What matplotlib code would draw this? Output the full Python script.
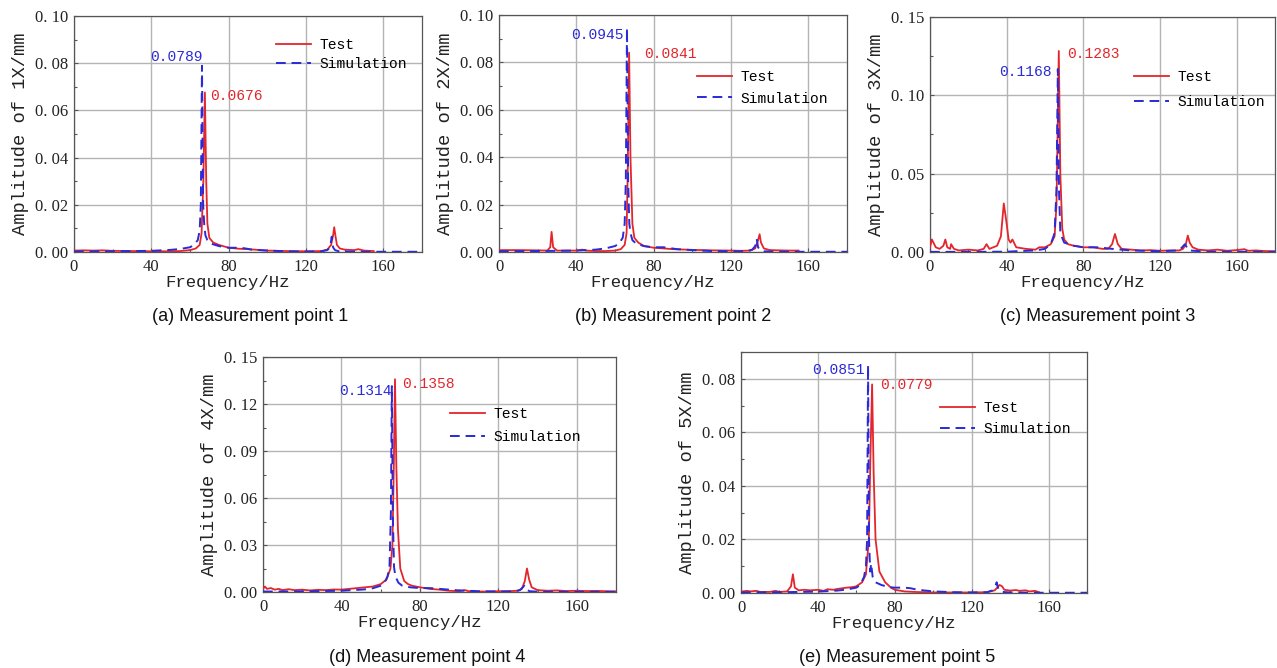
import numpy as np
import matplotlib
matplotlib.use("Agg")
import matplotlib.pyplot as plt
from matplotlib.ticker import MultipleLocator, FuncFormatter

W, H = 1277, 668
fig = plt.figure(figsize=(W / 100, H / 100), dpi=100)

RED = '#e3262b'
BLUE = '#2a2ad8'
MONO = 'Liberation Mono'
SERIF = 'Liberation Serif'

# ---- data (frequency Hz, amplitude mm) ----
# (a) point 1
test1_f = [0, 5, 10, 15, 20, 30, 40, 50, 55, 60, 63, 65, 66, 66.9, 67.7, 68.4, 69, 70, 72, 75, 80, 85, 90, 95,
           100, 110, 120, 128, 131, 133, 134, 134.6, 135.2, 136, 137.5, 140, 145, 147, 150, 155]
test1_a = [0.0006, 0.0007, 0.0006, 0.0007, 0.0005, 0.0004, 0.0003, 0.0003, 0.0004, 0.0008, 0.0015, 0.003, 0.008,
           0.03, 0.0676, 0.03, 0.012, 0.006, 0.004, 0.003, 0.0018, 0.0014, 0.0012, 0.0009, 0.0006, 0.0004, 0.0003,
           0.0004, 0.001, 0.003, 0.007, 0.0105, 0.007, 0.003, 0.0015, 0.001, 0.0008, 0.0012, 0.0006, 0.0004]
sim1_f = [0, 20, 40, 50, 55, 60, 62, 64, 65, 65.6, 66.2, 66.8, 67.4, 68, 69, 71, 75, 80, 85, 88, 92, 100, 110,
          120, 128, 131, 132.5, 133.3, 134, 135, 137, 140, 150, 160, 180]
sim1_a = [0.0002, 0.0003, 0.0005, 0.0009, 0.0013, 0.002, 0.003, 0.005, 0.009, 0.02, 0.0789, 0.02, 0.011, 0.007,
          0.005, 0.0035, 0.0025, 0.0018, 0.0018, 0.0016, 0.001, 0.0006, 0.0003, 0.0002, 0.0003, 0.0008, 0.002,
          0.0065, 0.002, 0.0008, 0.0003, 0.0002, 0.0001, 0.0001, 0.0001]

# (b) point 2
test2_f = [0, 10, 20, 25, 26.5, 27.2, 28, 30, 40, 43, 45, 50, 55, 60, 63, 65, 66, 66.6, 67.3, 68, 69, 70, 72, 75,
           80, 85, 90, 100, 110, 120, 125, 130, 132.5, 134, 134.8, 135.5, 137, 140, 145, 150, 155]
test2_a = [0.0008, 0.0008, 0.0007, 0.0006, 0.002, 0.0085, 0.002, 0.0006, 0.0006, 0.001, 0.0006, 0.0004, 0.0004,
           0.0006, 0.0012, 0.003, 0.008, 0.035, 0.0841, 0.04, 0.012, 0.006, 0.004, 0.0025, 0.0018, 0.0015, 0.0012,
           0.0009, 0.0007, 0.0006, 0.0005, 0.0006, 0.0015, 0.005, 0.0075, 0.004, 0.0015, 0.0008, 0.0007, 0.0006,
           0.0006]
sim2_f = [0, 20, 40, 50, 55, 60, 62, 64, 65, 65.6, 66.2, 66.8, 67.4, 68, 69, 71, 75, 80, 85, 88, 92, 100, 110,
          120, 128, 131, 132.5, 133.3, 134, 135, 137, 140, 150, 160, 180]
sim2_a = [0.0003, 0.0004, 0.0006, 0.001, 0.0015, 0.0025, 0.0035, 0.006, 0.012, 0.03, 0.0945, 0.03, 0.012, 0.008,
          0.005, 0.0035, 0.0025, 0.002, 0.002, 0.0017, 0.0012, 0.0008, 0.0004, 0.0003, 0.0003, 0.001, 0.0025,
          0.0055, 0.002, 0.0008, 0.0003, 0.0002, 0.0001, 0.0001, 0.0001]

# (c) point 3
test3_f = [0, 1, 3, 5, 7, 8, 9, 10.5, 11, 12.5, 15, 20, 25, 28, 29.5, 31, 33, 35, 37, 38.5, 40, 41, 42, 43, 45,
           50, 55, 57, 60, 63, 65, 66, 67.2, 68, 69, 70, 72, 75, 80, 85, 90, 93, 95, 96.5, 98, 100, 105, 110, 115,
           120, 125, 130, 132, 133.5, 134.5, 135.5, 137, 140, 145, 150, 155, 160, 164, 166, 170, 175, 180]
test3_a = [0.003, 0.008, 0.003, 0.002, 0.004, 0.008, 0.003, 0.002, 0.005, 0.002, 0.001, 0.0015, 0.001, 0.002,
           0.005, 0.002, 0.003, 0.004, 0.01, 0.031, 0.018, 0.008, 0.006, 0.008, 0.003, 0.002, 0.0015, 0.003, 0.003,
           0.005, 0.01, 0.03, 0.1283, 0.05, 0.015, 0.008, 0.005, 0.004, 0.003, 0.003, 0.002, 0.002, 0.005, 0.0115,
           0.005, 0.002, 0.0015, 0.001, 0.0012, 0.0008, 0.001, 0.001, 0.002, 0.005, 0.0105, 0.006, 0.003, 0.0015,
           0.001, 0.0015, 0.0008, 0.0012, 0.0018, 0.0008, 0.001, 0.0006, 0.0005]
sim3_f = [0, 20, 40, 45, 55, 60, 63, 65, 66, 66.7, 67.3, 68, 70, 75, 80, 88, 95, 105, 120, 130, 133, 135, 145, 180]
sim3_a = [0.0001, 0.0001, 0.0002, 0.0005, 0.001, 0.002, 0.005, 0.012, 0.04, 0.1168, 0.04, 0.012, 0.006, 0.004,
          0.003, 0.003, 0.002, 0.001, 0.0005, 0.001, 0.005, 0.001, 0.0002, 0.0001]

# (d) point 4
test4_f = [0, 1, 2, 4, 6, 8, 10, 13, 16, 20, 24, 28, 32, 36, 40, 44, 48, 52, 56, 60, 63, 65, 66, 66.7, 67.3, 68,
           68.8, 70, 72, 74, 76, 80, 85, 90, 95, 100, 103, 105, 110, 115, 120, 125, 130, 132, 133.5, 134.6, 135.7,
           137, 140, 145, 150, 155, 160, 165, 170, 175, 180]
test4_a = [0.002, 0.0035, 0.002, 0.0025, 0.0015, 0.002, 0.0012, 0.0018, 0.0012, 0.0015, 0.001, 0.0014, 0.0012,
           0.0016, 0.0015, 0.002, 0.0025, 0.003, 0.0035, 0.005, 0.008, 0.015, 0.03, 0.08, 0.1358, 0.08, 0.04, 0.015,
           0.007, 0.005, 0.004, 0.003, 0.002, 0.0015, 0.0008, 0.0005, 0.0012, 0.0005, 0.0003, 0.0003, 0.0005, 0.0005,
           0.0008, 0.002, 0.007, 0.015, 0.008, 0.003, 0.0012, 0.0008, 0.001, 0.0006, 0.0008, 0.0006, 0.0007, 0.0005,
           0.0004]
sim4_f = [0, 20, 40, 50, 55, 60, 62, 63.5, 64.5, 65.2, 65.7, 66.2, 66.8, 67.5, 69, 71, 75, 80, 85, 90, 100, 110,
          120, 128, 131, 132.5, 133.3, 134.2, 136, 140, 150, 180]
sim4_a = [0.0003, 0.0004, 0.0008, 0.0015, 0.002, 0.004, 0.006, 0.01, 0.016, 0.05, 0.1314, 0.05, 0.016, 0.01,
          0.006, 0.004, 0.003, 0.0025, 0.0025, 0.002, 0.001, 0.0005, 0.0003, 0.0004, 0.0012, 0.003, 0.004, 0.0015,
          0.0005, 0.0002, 0.0001, 0.0001]

# (e) point 5
test5_f = [0, 3, 5, 8, 10, 15, 18, 20, 24, 26, 27, 28, 30, 33, 36, 40, 43, 45, 48, 50, 53, 55, 58, 60, 63, 65,
           66.5, 67.3, 68.2, 69, 70, 72, 75, 78, 80, 85, 90, 95, 100, 110, 120, 128, 132, 134.5, 135.8, 137, 140,
           143, 145, 148, 150, 153, 155]
test5_a = [0.0005, 0.0008, 0.0006, 0.0008, 0.0004, 0.0004, 0.0008, 0.0004, 0.0006, 0.0025, 0.007, 0.002, 0.001,
           0.0012, 0.001, 0.0012, 0.0008, 0.0014, 0.0012, 0.0015, 0.0018, 0.002, 0.0022, 0.0025, 0.004, 0.007, 0.02,
           0.05, 0.0779, 0.045, 0.02, 0.008, 0.004, 0.002, 0.0012, 0.0006, 0.0004, 0.0003, 0.0002, 0.0002, 0.0002,
           0.0003, 0.001, 0.003, 0.0025, 0.0012, 0.0009, 0.0011, 0.0008, 0.001, 0.0006, 0.0008, 0.0003]
sim5_f = [0, 20, 40, 50, 55, 60, 62, 64, 65, 65.6, 66.1, 66.6, 67.2, 67.7, 68.5, 70, 73, 77, 80, 85, 88, 92, 100,
          110, 120, 128, 131, 132.3, 133, 134, 136, 140, 150, 180]
sim5_a = [0.0002, 0.0003, 0.0005, 0.0009, 0.0013, 0.002, 0.003, 0.006, 0.01, 0.02, 0.0851, 0.02, 0.008, 0.011,
          0.006, 0.004, 0.003, 0.0022, 0.002, 0.002, 0.0018, 0.0012, 0.0006, 0.0003, 0.0002, 0.0003, 0.001, 0.0025,
          0.004, 0.0012, 0.0004, 0.0002, 0.0001, 0.0001]

sim_peaks = [0.0789, 0.0945, 0.1168, 0.1314, 0.0851]
test_peaks = [0.0676, 0.0841, 0.1283, 0.1358, 0.0779]
ylabels = ['Amplitude of 1X/mm', 'Amplitude of 2X/mm', 'Amplitude of 3X/mm',
           'Amplitude of 4X/mm', 'Amplitude of 5X/mm']
captions = ['(a) Measurement point 1', '(b) Measurement point 2', '(c) Measurement point 3',
            '(d) Measurement point 4', '(e) Measurement point 5']
ymax = [0.10, 0.10, 0.15, 0.15, 0.09]
ystep = [0.02, 0.02, 0.05, 0.03, 0.02]

# layout in pixels: left, right, top, bottom of each axes box
boxes = [(74, 422, 16, 252), (499, 847, 15, 252), (930, 1275, 17, 252),
         (263, 616, 357, 592), (741, 1087, 352, 593)]
# annotation positions (data coords): blue text, red text
sim_txt = [(39.3, 0.0826), (37.2, 0.0916), (36.0, 0.1149), (38.8, 0.1283), (36.9, 0.0833)]
test_txt = [(70.4, 0.066), (75.0, 0.0835), (71.5, 0.1264), (70.9, 0.1328), (72.3, 0.0777)]
# legend anchor (axes fraction) and row spacing
leg_pos = [(0.58, 0.905), (0.568, 0.767), (0.59, 0.773), (0.53, 0.787), (0.575, 0.798)]
leg_gap = [0.3, 0.5, 0.75, 0.6, 0.5]
cap_pos = [(250, 316), (673, 316), (1098, 316), (427, 657), (897, 657)]

tests = [(test1_f, test1_a), (test2_f, test2_a), (test3_f, test3_a), (test4_f, test4_a), (test5_f, test5_a)]
sims = [(sim1_f, sim1_a), (sim2_f, sim2_a), (sim3_f, sim3_a), (sim4_f, sim4_a), (sim5_f, sim5_a)]

fmt = FuncFormatter(lambda v, p: ('%.2f' % v).replace('.', '. '))

for i in range(5):
    l, r, t, b = boxes[i]
    wpx, hpx = r - l, b - t
    ax = fig.add_axes([l / W, 1 - b / H, wpx / W, hpx / H])
    ax.plot(tests[i][0], tests[i][1], color=RED, lw=1.3, label='Test', zorder=3)
    ax.plot(sims[i][0], sims[i][1], color=BLUE, lw=1.4, ls=(0, (5, 3)), label='Simulation', zorder=4)
    ax.set_xlim(0, 180)
    ax.set_ylim(0, ymax[i])
    ax.xaxis.set_major_locator(MultipleLocator(40))
    ax.xaxis.set_minor_locator(MultipleLocator(20))
    ax.yaxis.set_major_locator(MultipleLocator(ystep[i]))
    ax.yaxis.set_minor_locator(MultipleLocator(ystep[i] / 2))
    ax.yaxis.set_major_formatter(fmt)
    ax.grid(True, which='major', color='#b4b4b4', lw=1.0)
    ax.set_axisbelow(True)
    ax.tick_params(which='both', direction='in', length=3, width=0.8, color='#555555',
                   labelsize=12, labelcolor='#222222')
    ax.tick_params(axis='x', pad=5)
    ax.tick_params(axis='y', pad=4)
    ax.tick_params(which='minor', length=2)
    for lab in ax.get_xticklabels() + ax.get_yticklabels():
        lab.set_family(SERIF)
    for s in ax.spines.values():
        s.set_color('#555555')
        s.set_linewidth(0.9)
    ax.set_xlabel('Frequency/Hz', family=MONO, fontsize=12.5, color='#222222')
    ax.xaxis.set_label_coords(0.5 - 20 / wpx, -23 / hpx)
    ax.set_ylabel(ylabels[i], family=MONO, fontsize=13.5, color='#222222')
    ax.yaxis.set_label_coords(-45 / wpx, 0.5)
    ax.text(sim_txt[i][0], sim_txt[i][1], '%.4f' % sim_peaks[i], color=BLUE, family=MONO,
            fontsize=10.5, va='center', ha='left')
    ax.text(test_txt[i][0], test_txt[i][1], '%.4f' % test_peaks[i], color=RED, family=MONO,
            fontsize=10.5, va='center', ha='left')
    ax.legend(loc='upper left', bbox_to_anchor=leg_pos[i], frameon=False, borderpad=0, borderaxespad=0,
              handlelength=2.4, handletextpad=0.6, labelspacing=leg_gap[i],
              prop={'family': MONO, 'size': 10.5})
    fig.text(cap_pos[i][0] / W, 1 - cap_pos[i][1] / H, captions[i], ha='center', va='center',
             family='Liberation Sans', fontsize=13, color='#111111')

fig.savefig('out.png', dpi=100)
